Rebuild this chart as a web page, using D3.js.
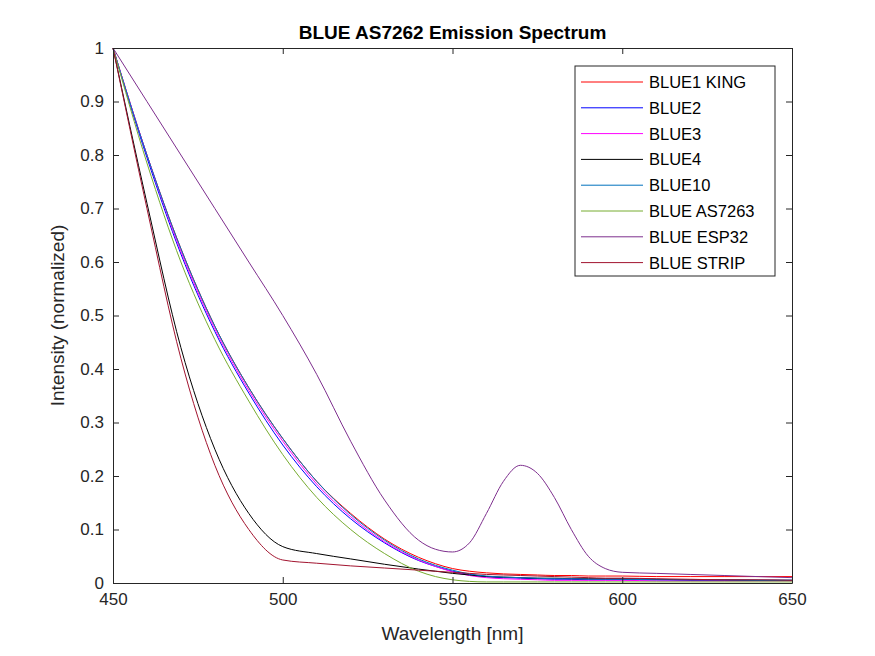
<!DOCTYPE html>
<html><head><meta charset="utf-8">
<script src="https://cdn.jsdelivr.net/npm/d3@7"></script>
<style>body{margin:0;background:#fff}text{font-family:"Liberation Sans",Arial,sans-serif}</style>
</head><body><div id="chart"></div>
<script>
// Wavelength grid (nm)
const wl = [450,460,470,480,490,500,510,520,530,540,545,550,555,560,565,570,575,580,585,590,595,600,610,620,630,640,650];
const blue1King = [1,0.80,0.625,0.48,0.365,0.27,0.19,0.13,0.082,0.048,0.036,0.027,0.022,0.019,0.017,0.016,0.015,0.014,0.014,0.013,0.013,0.013,0.012,0.012,0.012,0.012,0.012];
const blue2 = [1,0.795,0.615,0.47,0.355,0.258,0.18,0.12,0.075,0.042,0.031,0.022,0.016,0.012,0.01,0.009,0.008,0.007,0.007,0.006,0.006,0.006,0.006,0.005,0.005,0.005,0.005];
const blue3 = [1,0.80,0.62,0.475,0.36,0.265,0.185,0.124,0.077,0.043,0.031,0.021,0.014,0.01,0.008,0.007,0.006,0.005,0.005,0.005,0.005,0.005,0.004,0.004,0.004,0.004,0.004];
const blue4 = [1,0.71,0.44,0.25,0.13,0.068,0.055,0.045,0.035,0.026,0.022,0.018,0.015,0.012,0.011,0.01,0.009,0.009,0.008,0.008,0.008,0.008,0.007,0.006,0.006,0.005,0.005];
const blue10 = [1,0.80,0.625,0.48,0.365,0.27,0.19,0.128,0.08,0.045,0.033,0.024,0.017,0.013,0.011,0.01,0.009,0.008,0.008,0.007,0.007,0.007,0.006,0.006,0.006,0.005,0.005];
const blueAs7263 = [1,0.785,0.6,0.455,0.34,0.24,0.16,0.10,0.055,0.022,0.012,0.006,0.003,0.002,0.002,0.002,0.002,0.002,0.002,0.002,0.002,0.002,0.002,0.002,0.002,0.002,0.002];
const blueEsp32 = [1,0.9,0.8,0.7,0.6,0.5,0.39,0.265,0.155,0.08,0.063,0.058,0.075,0.13,0.19,0.22,0.205,0.16,0.10,0.05,0.027,0.02,0.018,0.016,0.014,0.012,0.01];
const blueStrip = [1,0.70,0.42,0.22,0.10,0.043,0.037,0.032,0.028,0.024,0.022,0.02,0.018,0.016,0.015,0.014,0.013,0.012,0.011,0.01,0.009,0.009,0.008,0.007,0.006,0.006,0.005];
const seriesNames = ["BLUE1 KING","BLUE2","BLUE3","BLUE4","BLUE10","BLUE AS7263","BLUE ESP32","BLUE STRIP"];
const seriesValues = [blue1King,blue2,blue3,blue4,blue10,blueAs7263,blueEsp32,blueStrip];
const colors = ["#ff0000","#0000ff","#ff00ff","#000000","#0072BD","#77AC30","#7E2F8E","#A2142F"];
const xTicks = [450,500,550,600,650];
const yTicks = [0,0.1,0.2,0.3,0.4,0.5,0.6,0.7,0.8,0.9,1];

const W = 875, H = 656, m = {l:113, r:83, t:48, b:73};
const svg = d3.select('#chart').append('svg').attr('width', W).attr('height', H);
const x = d3.scaleLinear().domain([450,650]).range([m.l, W - m.r]);
const y = d3.scaleLinear().domain([0,1]).range([H - m.b, m.t]);

// Lines
const line = d3.line().x((d, i) => x(wl[i])).y(d => y(d)).curve(d3.curveMonotoneX);
seriesValues.forEach((vals, k) => {
    svg.append('path').datum(vals)
        .attr('d', line).attr('fill', 'none')
        .attr('stroke', colors[k]).attr('stroke-width', 1);
});

// Axes with inward ticks
svg.append('g').attr('transform', `translate(0,${H - m.b})`)
    .call(d3.axisBottom(x).tickValues(xTicks).tickSizeInner(-6).tickSizeOuter(0).tickPadding(10));
svg.append('g').attr('transform', `translate(${m.l},0)`)
    .call(d3.axisLeft(y).tickValues(yTicks).tickFormat(d3.format('~g')).tickSizeInner(-6).tickSizeOuter(0).tickPadding(9));
svg.append('g').attr('transform', `translate(0,${m.t})`)
    .call(d3.axisTop(x).tickValues(xTicks).tickSizeInner(-6).tickSizeOuter(0).tickFormat(''));
svg.append('g').attr('transform', `translate(${W - m.r},0)`)
    .call(d3.axisRight(y).tickValues(yTicks).tickSizeInner(-6).tickSizeOuter(0).tickFormat(''));
svg.selectAll('.domain, .tick line').attr('stroke', '#262626');
svg.selectAll('.tick text').attr('fill', '#262626').attr('font-size', 17).attr('font-family', '"Liberation Sans",Arial,sans-serif');

// Labels
svg.append('text').attr('x', (m.l + W - m.r) / 2).attr('y', 39).attr('text-anchor', 'middle')
    .style('font-size', '19px').style('font-weight', 'bold').text('BLUE AS7262 Emission Spectrum');
svg.append('text').attr('x', (m.l + W - m.r) / 2).attr('y', 640).attr('text-anchor', 'middle')
    .attr('fill', '#262626').style('font-size', '19px').text('Wavelength [nm]');
svg.append('text').attr('transform', `translate(64,${(m.t + H - m.b) / 2}) rotate(-90)`).attr('text-anchor', 'middle')
    .attr('fill', '#262626').style('font-size', '19px').text('Intensity (normalized)');

// Legend
const lg = svg.append('g').attr('transform', 'translate(575,66)');
lg.append('rect').attr('width', 200).attr('height', 210).attr('fill', '#fff').attr('stroke', '#262626');
seriesNames.forEach((n, k) => {
    const yy = 16 + k * 25.8;
    lg.append('line').attr('x1', 6).attr('x2', 68).attr('y1', yy).attr('y2', yy).attr('stroke', colors[k]);
    lg.append('text').attr('x', 74).attr('y', yy + 6).style('font-size', '16.5px').text(n);
});
</script></body></html>
